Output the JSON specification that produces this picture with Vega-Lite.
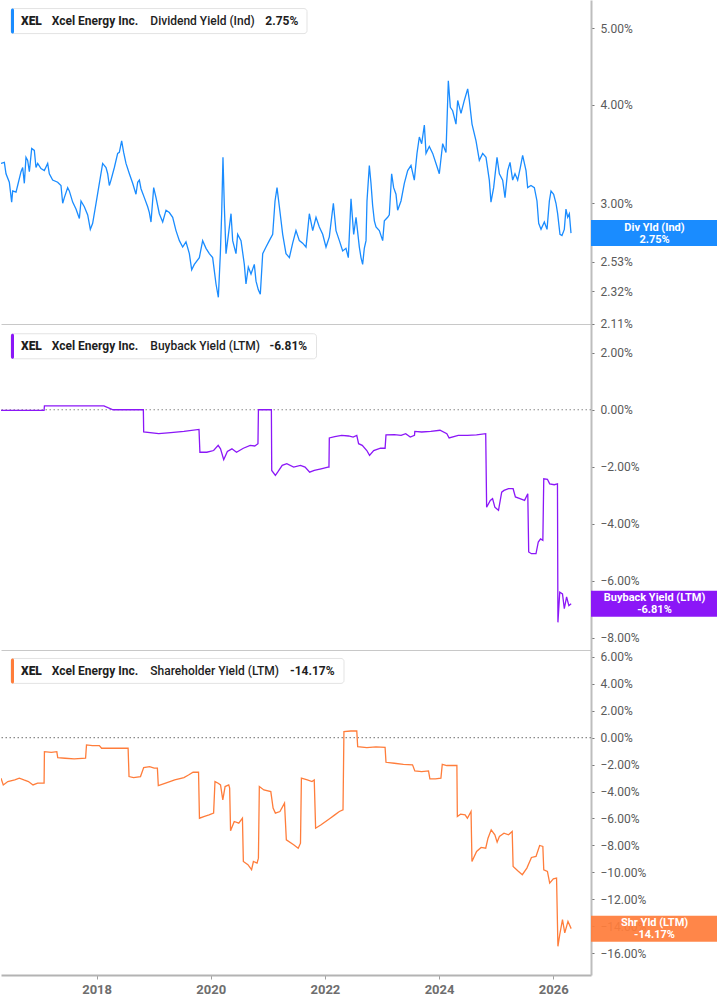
{
  "$schema": "https://vega.github.io/schema/vega-lite/v6.json",
  "padding": 0,
  "spacing": 0,
  "bounds": "flush",
  "background": "white",
  "config": {
    "view": {"stroke": null},
    "font": "Roboto",
    "axis": {"labelFont": "Roboto", "grid": false, "title": null, "labelOverlap": false, "labelFlush": false},
    "axisRight": {"tickSize": 3, "tickColor": "#777777", "tickWidth": 1, "labelPadding": 6, "labelColor": "#5a5a5a", "labelFontSize": 12, "domainColor": "#bdbdbd", "domainWidth": 2, "labelOverlap": false, "tickCount": 30, "labelExpr": "format(datum.value, '.2f') + '%'"}
  },
  "resolve": {"scale": {"x": "independent", "y": "independent"}},
  "datasets": {
    "div": [
      {"t":2016.325,"v":3.37},{"t":2016.384,"v":3.38},{"t":2016.413,"v":3.27},{"t":2016.471,"v":3.19},{"t":2016.512,"v":3.01},{"t":2016.530,"v":3.11},{"t":2016.588,"v":3.10},{"t":2016.617,"v":3.16},{"t":2016.676,"v":3.29},{"t":2016.705,"v":3.33},{"t":2016.734,"v":3.18},{"t":2016.763,"v":3.43},{"t":2016.792,"v":3.40},{"t":2016.822,"v":3.29},{"t":2016.863,"v":3.52},{"t":2016.909,"v":3.50},{"t":2016.938,"v":3.33},{"t":2016.968,"v":3.37},{"t":2017.026,"v":3.32},{"t":2017.084,"v":3.30},{"t":2017.143,"v":3.37},{"t":2017.172,"v":3.27},{"t":2017.230,"v":3.21},{"t":2017.318,"v":3.19},{"t":2017.376,"v":3.16},{"t":2017.406,"v":3.00},{"t":2017.435,"v":3.05},{"t":2017.493,"v":3.14},{"t":2017.522,"v":3.11},{"t":2017.581,"v":3.01},{"t":2017.639,"v":2.95},{"t":2017.698,"v":2.87},{"t":2017.727,"v":3.02},{"t":2017.785,"v":2.97},{"t":2017.844,"v":2.90},{"t":2017.890,"v":2.78},{"t":2017.931,"v":2.83},{"t":2017.990,"v":3.00},{"t":2018.048,"v":3.18},{"t":2018.106,"v":3.37},{"t":2018.165,"v":3.33},{"t":2018.194,"v":3.27},{"t":2018.223,"v":3.16},{"t":2018.252,"v":3.21},{"t":2018.311,"v":3.33},{"t":2018.369,"v":3.47},{"t":2018.398,"v":3.48},{"t":2018.439,"v":3.60},{"t":2018.474,"v":3.48},{"t":2018.515,"v":3.37},{"t":2018.574,"v":3.27},{"t":2018.632,"v":3.18},{"t":2018.690,"v":3.08},{"t":2018.720,"v":3.19},{"t":2018.749,"v":3.21},{"t":2018.778,"v":3.13},{"t":2018.836,"v":3.05},{"t":2018.895,"v":2.97},{"t":2018.924,"v":2.92},{"t":2018.953,"v":2.84},{"t":2019.000,"v":3.14},{"t":2019.041,"v":3.05},{"t":2019.099,"v":2.91},{"t":2019.158,"v":2.84},{"t":2019.216,"v":2.94},{"t":2019.274,"v":2.92},{"t":2019.333,"v":2.88},{"t":2019.391,"v":2.77},{"t":2019.450,"v":2.69},{"t":2019.508,"v":2.64},{"t":2019.566,"v":2.68},{"t":2019.625,"v":2.59},{"t":2019.666,"v":2.47},{"t":2019.712,"v":2.51},{"t":2019.800,"v":2.56},{"t":2019.858,"v":2.69},{"t":2019.917,"v":2.63},{"t":2019.975,"v":2.59},{"t":2020.033,"v":2.56},{"t":2020.092,"v":2.37},{"t":2020.133,"v":2.28},{"t":2020.168,"v":2.59},{"t":2020.191,"v":2.91},{"t":2020.214,"v":3.43},{"t":2020.238,"v":2.97},{"t":2020.267,"v":2.59},{"t":2020.296,"v":2.69},{"t":2020.355,"v":2.91},{"t":2020.384,"v":2.69},{"t":2020.442,"v":2.59},{"t":2020.471,"v":2.74},{"t":2020.530,"v":2.69},{"t":2020.588,"v":2.51},{"t":2020.617,"v":2.37},{"t":2020.658,"v":2.49},{"t":2020.705,"v":2.44},{"t":2020.763,"v":2.51},{"t":2020.793,"v":2.39},{"t":2020.833,"v":2.33},{"t":2020.868,"v":2.30},{"t":2020.910,"v":2.59},{"t":2020.968,"v":2.64},{"t":2021.026,"v":2.69},{"t":2021.085,"v":2.74},{"t":2021.126,"v":3.02},{"t":2021.161,"v":3.14},{"t":2021.202,"v":2.97},{"t":2021.260,"v":2.74},{"t":2021.318,"v":2.59},{"t":2021.377,"v":2.56},{"t":2021.435,"v":2.67},{"t":2021.493,"v":2.77},{"t":2021.552,"v":2.69},{"t":2021.610,"v":2.67},{"t":2021.669,"v":2.64},{"t":2021.727,"v":2.91},{"t":2021.786,"v":2.77},{"t":2021.844,"v":2.88},{"t":2021.902,"v":2.80},{"t":2021.961,"v":2.74},{"t":2022.019,"v":2.64},{"t":2022.077,"v":2.72},{"t":2022.148,"v":3.00},{"t":2022.194,"v":2.77},{"t":2022.253,"v":2.69},{"t":2022.311,"v":2.61},{"t":2022.369,"v":2.63},{"t":2022.410,"v":2.56},{"t":2022.457,"v":3.04},{"t":2022.504,"v":2.74},{"t":2022.545,"v":2.88},{"t":2022.603,"v":2.64},{"t":2022.632,"v":2.56},{"t":2022.661,"v":2.51},{"t":2022.690,"v":2.63},{"t":2022.720,"v":2.69},{"t":2022.737,"v":3.02},{"t":2022.778,"v":3.35},{"t":2022.807,"v":3.18},{"t":2022.836,"v":2.98},{"t":2022.866,"v":2.85},{"t":2022.895,"v":2.80},{"t":2022.953,"v":2.77},{"t":2023.012,"v":2.69},{"t":2023.041,"v":2.85},{"t":2023.099,"v":2.88},{"t":2023.128,"v":2.90},{"t":2023.169,"v":3.27},{"t":2023.204,"v":3.14},{"t":2023.245,"v":3.08},{"t":2023.274,"v":2.94},{"t":2023.333,"v":3.02},{"t":2023.391,"v":3.18},{"t":2023.450,"v":3.30},{"t":2023.508,"v":3.35},{"t":2023.566,"v":3.21},{"t":2023.613,"v":3.47},{"t":2023.654,"v":3.64},{"t":2023.695,"v":3.57},{"t":2023.742,"v":3.77},{"t":2023.771,"v":3.47},{"t":2023.829,"v":3.54},{"t":2023.888,"v":3.47},{"t":2023.946,"v":3.37},{"t":2024.004,"v":3.27},{"t":2024.063,"v":3.57},{"t":2024.121,"v":3.48},{"t":2024.162,"v":4.29},{"t":2024.197,"v":3.97},{"t":2024.238,"v":3.93},{"t":2024.296,"v":3.78},{"t":2024.326,"v":4.05},{"t":2024.384,"v":3.90},{"t":2024.442,"v":4.05},{"t":2024.501,"v":4.19},{"t":2024.530,"v":4.05},{"t":2024.577,"v":3.78},{"t":2024.647,"v":3.60},{"t":2024.705,"v":3.40},{"t":2024.764,"v":3.47},{"t":2024.822,"v":3.43},{"t":2024.880,"v":3.21},{"t":2024.909,"v":3.01},{"t":2024.956,"v":3.14},{"t":2025.015,"v":3.43},{"t":2025.056,"v":3.27},{"t":2025.114,"v":3.21},{"t":2025.155,"v":3.05},{"t":2025.202,"v":3.30},{"t":2025.243,"v":3.38},{"t":2025.289,"v":3.21},{"t":2025.330,"v":3.27},{"t":2025.377,"v":3.21},{"t":2025.423,"v":3.33},{"t":2025.464,"v":3.45},{"t":2025.523,"v":3.30},{"t":2025.552,"v":3.14},{"t":2025.610,"v":3.16},{"t":2025.669,"v":3.14},{"t":2025.715,"v":3.02},{"t":2025.745,"v":2.83},{"t":2025.786,"v":2.78},{"t":2025.844,"v":2.84},{"t":2025.891,"v":2.78},{"t":2025.932,"v":3.02},{"t":2025.961,"v":3.11},{"t":2026.007,"v":3.08},{"t":2026.048,"v":3.00},{"t":2026.077,"v":2.91},{"t":2026.118,"v":2.74},{"t":2026.153,"v":2.73},{"t":2026.194,"v":2.78},{"t":2026.223,"v":2.95},{"t":2026.253,"v":2.88},{"t":2026.282,"v":2.91},{"t":2026.311,"v":2.75}
    ],
    "bb": [
      {"t":2016.325,"v":-0.02},{"t":2017.080,"v":-0.02},{"t":2017.086,"v":0.14},{"t":2018.128,"v":0.14},{"t":2018.288,"v":0.0},{"t":2018.819,"v":0.0},{"t":2018.825,"v":-0.78},{"t":2019.089,"v":-0.84},{"t":2019.300,"v":-0.80},{"t":2019.530,"v":-0.76},{"t":2019.794,"v":-0.69},{"t":2019.810,"v":-1.49},{"t":2019.930,"v":-1.49},{"t":2020.050,"v":-1.43},{"t":2020.130,"v":-1.25},{"t":2020.171,"v":-1.37},{"t":2020.227,"v":-1.75},{"t":2020.291,"v":-1.46},{"t":2020.371,"v":-1.37},{"t":2020.451,"v":-1.49},{"t":2020.571,"v":-1.35},{"t":2020.691,"v":-1.25},{"t":2020.771,"v":-1.27},{"t":2020.827,"v":-1.19},{"t":2020.835,"v":0.0},{"t":2021.062,"v":0.0},{"t":2021.068,"v":-2.13},{"t":2021.132,"v":-2.30},{"t":2021.172,"v":-2.19},{"t":2021.252,"v":-1.95},{"t":2021.332,"v":-1.89},{"t":2021.452,"v":-2.01},{"t":2021.572,"v":-1.95},{"t":2021.652,"v":-2.01},{"t":2021.733,"v":-2.19},{"t":2021.813,"v":-2.13},{"t":2021.933,"v":-2.07},{"t":2022.053,"v":-2.01},{"t":2022.071,"v":-2.01},{"t":2022.077,"v":-0.99},{"t":2022.173,"v":-0.94},{"t":2022.293,"v":-0.90},{"t":2022.414,"v":-0.92},{"t":2022.494,"v":-0.96},{"t":2022.558,"v":-0.90},{"t":2022.590,"v":-1.19},{"t":2022.654,"v":-1.25},{"t":2022.734,"v":-1.43},{"t":2022.782,"v":-1.60},{"t":2022.854,"v":-1.43},{"t":2022.974,"v":-1.35},{"t":2023.054,"v":-1.35},{"t":2023.070,"v":-0.88},{"t":2023.214,"v":-0.87},{"t":2023.335,"v":-0.90},{"t":2023.415,"v":-0.84},{"t":2023.495,"v":-0.96},{"t":2023.569,"v":-0.90},{"t":2023.575,"v":-0.76},{"t":2023.695,"v":-0.78},{"t":2023.855,"v":-0.76},{"t":2024.016,"v":-0.72},{"t":2024.136,"v":-0.84},{"t":2024.176,"v":-0.99},{"t":2024.336,"v":-0.90},{"t":2024.496,"v":-0.90},{"t":2024.656,"v":-0.88},{"t":2024.817,"v":-0.84},{"t":2024.833,"v":-3.42},{"t":2024.897,"v":-3.18},{"t":2024.937,"v":-3.12},{"t":2024.977,"v":-3.42},{"t":2025.041,"v":-3.53},{"t":2025.097,"v":-2.89},{"t":2025.137,"v":-2.83},{"t":2025.217,"v":-2.77},{"t":2025.297,"v":-2.77},{"t":2025.337,"v":-3.06},{"t":2025.417,"v":-3.12},{"t":2025.498,"v":-3.18},{"t":2025.554,"v":-2.95},{"t":2025.570,"v":-4.99},{"t":2025.618,"v":-5.05},{"t":2025.698,"v":-5.05},{"t":2025.738,"v":-4.64},{"t":2025.778,"v":-4.53},{"t":2025.818,"v":-4.58},{"t":2025.834,"v":-2.42},{"t":2025.898,"v":-2.44},{"t":2025.938,"v":-2.60},{"t":2026.018,"v":-2.63},{"t":2026.074,"v":-2.60},{"t":2026.082,"v":-7.46},{"t":2026.114,"v":-6.40},{"t":2026.162,"v":-6.46},{"t":2026.194,"v":-6.98},{"t":2026.234,"v":-6.57},{"t":2026.274,"v":-6.87},{"t":2026.314,"v":-6.81}
    ],
    "shr": [
      {"t":2016.325,"v":-3.01},{"t":2016.365,"v":-3.51},{"t":2016.445,"v":-3.26},{"t":2016.566,"v":-3.14},{"t":2016.646,"v":-3.01},{"t":2016.726,"v":-3.14},{"t":2016.806,"v":-3.26},{"t":2016.886,"v":-3.51},{"t":2016.966,"v":-3.38},{"t":2017.080,"v":-3.38},{"t":2017.086,"v":-1.04},{"t":2017.206,"v":-1.09},{"t":2017.303,"v":-1.04},{"t":2017.319,"v":-1.48},{"t":2017.447,"v":-1.53},{"t":2017.607,"v":-1.58},{"t":2017.807,"v":-1.53},{"t":2017.823,"v":-0.54},{"t":2017.927,"v":-0.59},{"t":2018.048,"v":-0.59},{"t":2018.088,"v":-0.79},{"t":2018.248,"v":-0.79},{"t":2018.408,"v":-0.79},{"t":2018.552,"v":-0.79},{"t":2018.568,"v":-2.89},{"t":2018.648,"v":-2.96},{"t":2018.769,"v":-2.89},{"t":2018.825,"v":-2.22},{"t":2018.929,"v":-2.15},{"t":2019.009,"v":-2.27},{"t":2019.065,"v":-2.27},{"t":2019.081,"v":-3.56},{"t":2019.209,"v":-3.38},{"t":2019.369,"v":-3.14},{"t":2019.530,"v":-2.96},{"t":2019.610,"v":-2.77},{"t":2019.690,"v":-2.57},{"t":2019.786,"v":-2.57},{"t":2019.802,"v":-5.98},{"t":2019.890,"v":-5.85},{"t":2019.970,"v":-5.73},{"t":2020.050,"v":-5.60},{"t":2020.074,"v":-3.26},{"t":2020.130,"v":-3.38},{"t":2020.171,"v":-3.51},{"t":2020.211,"v":-4.62},{"t":2020.251,"v":-3.63},{"t":2020.315,"v":-3.51},{"t":2020.331,"v":-3.75},{"t":2020.347,"v":-6.91},{"t":2020.411,"v":-6.22},{"t":2020.491,"v":-6.35},{"t":2020.555,"v":-5.98},{"t":2020.571,"v":-9.19},{"t":2020.651,"v":-9.43},{"t":2020.715,"v":-9.80},{"t":2020.747,"v":-9.19},{"t":2020.811,"v":-9.31},{"t":2020.835,"v":-8.94},{"t":2020.851,"v":-3.63},{"t":2020.931,"v":-3.88},{"t":2021.052,"v":-4.00},{"t":2021.092,"v":-5.23},{"t":2021.132,"v":-5.60},{"t":2021.212,"v":-5.48},{"t":2021.292,"v":-4.86},{"t":2021.324,"v":-7.58},{"t":2021.452,"v":-7.95},{"t":2021.532,"v":-8.20},{"t":2021.572,"v":-7.83},{"t":2021.588,"v":-3.01},{"t":2021.692,"v":-3.14},{"t":2021.773,"v":-3.26},{"t":2021.813,"v":-3.14},{"t":2021.837,"v":-6.72},{"t":2021.933,"v":-6.47},{"t":2022.013,"v":-6.22},{"t":2022.093,"v":-5.98},{"t":2022.173,"v":-5.73},{"t":2022.253,"v":-5.48},{"t":2022.317,"v":-5.36},{"t":2022.333,"v":0.44},{"t":2022.454,"v":0.49},{"t":2022.558,"v":0.49},{"t":2022.574,"v":-0.67},{"t":2022.734,"v":-0.74},{"t":2022.894,"v":-0.69},{"t":2023.054,"v":-0.72},{"t":2023.070,"v":-1.83},{"t":2023.215,"v":-1.90},{"t":2023.375,"v":-1.98},{"t":2023.535,"v":-2.02},{"t":2023.575,"v":-2.47},{"t":2023.695,"v":-2.52},{"t":2023.815,"v":-2.47},{"t":2023.839,"v":-3.06},{"t":2023.936,"v":-3.06},{"t":2024.032,"v":-3.01},{"t":2024.056,"v":-1.98},{"t":2024.136,"v":-2.07},{"t":2024.216,"v":-2.07},{"t":2024.312,"v":-2.07},{"t":2024.320,"v":-5.85},{"t":2024.376,"v":-5.68},{"t":2024.456,"v":-5.73},{"t":2024.496,"v":-5.98},{"t":2024.560,"v":-5.48},{"t":2024.576,"v":-9.19},{"t":2024.657,"v":-8.44},{"t":2024.737,"v":-8.15},{"t":2024.817,"v":-8.20},{"t":2024.857,"v":-7.46},{"t":2024.913,"v":-6.84},{"t":2024.977,"v":-7.21},{"t":2025.017,"v":-7.75},{"t":2025.057,"v":-7.33},{"t":2025.137,"v":-7.09},{"t":2025.217,"v":-7.21},{"t":2025.281,"v":-6.96},{"t":2025.297,"v":-9.56},{"t":2025.378,"v":-9.88},{"t":2025.458,"v":-10.17},{"t":2025.538,"v":-9.68},{"t":2025.618,"v":-8.89},{"t":2025.698,"v":-8.81},{"t":2025.762,"v":-8.00},{"t":2025.818,"v":-8.07},{"t":2025.834,"v":-9.80},{"t":2025.898,"v":-9.93},{"t":2025.938,"v":-10.79},{"t":2026.002,"v":-10.47},{"t":2026.058,"v":-10.42},{"t":2026.082,"v":-15.48},{"t":2026.114,"v":-14.62},{"t":2026.162,"v":-13.51},{"t":2026.202,"v":-14.49},{"t":2026.258,"v":-13.63},{"t":2026.314,"v":-14.17}
    ]
  },
  "vconcat": [
    {
      "width": 590,
      "height": 324,
      "data": {"values": [{"ticker": "XEL", "name": "Xcel Energy Inc.", "metric": "Dividend Yield (Ind)", "last": "2.75%", "short": "Div Yld (Ind)", "value": 2.75}]},
      "layer": [
        {
          "data": {"name": "div"},
          "mark": {"type": "line", "color": "#1a8cff", "strokeWidth": 1.3, "clip": true},
          "encoding": {
            "x": {"field": "t", "type": "quantitative", "scale": {"domain": [2016.3252, 2026.6615], "nice": false, "zero": false},
                  "axis": {"labels": false, "ticks": false, "domainColor": "#c8c8c8", "domainWidth": 1}},
            "y": {"field": "v", "type": "quantitative", "scale": {"type": "log", "domain": [2.109, 5.43], "nice": false},
                  "axis": {"orient": "right", "labelOverlap": false, "tickCount": 30, "values": [2.11, 2.32, 2.53, 3, 4, 5]}}
          }
        },
        {
          "mark": {"type": "rule", "color": "#1a8cff", "strokeWidth": 26, "strokeCap": "butt", "clip": false},
          "encoding": {"x": {"datum": 2026.6615}, "x2": {"datum": 2028.886}, "y": {"field": "value", "type": "quantitative"}}
        },
        {
          "mark": {"type": "text", "color": "white", "fontWeight": "bold", "fontSize": 11, "align": "center", "baseline": "middle", "dy": -5.5, "clip": false},
          "encoding": {"x": {"datum": 2027.774}, "y": {"field": "value", "type": "quantitative"}, "text": {"field": "short"}}
        },
        {
          "mark": {"type": "text", "color": "white", "fontWeight": "bold", "fontSize": 11, "align": "center", "baseline": "middle", "dy": 6.5, "clip": false},
          "encoding": {"x": {"datum": 2027.774}, "y": {"field": "value", "type": "quantitative"}, "text": {"field": "last"}}
        },
        {
          "mark": {"type": "rect", "fill": "white", "stroke": "#e3e3e3", "strokeWidth": 1, "cornerRadius": 3},
          "encoding": {"x": {"datum": 2016.5004}, "x2": {"datum": 2021.6861}, "y": {"datum": 5.296}, "y2": {"datum": 4.923}}
        },
        {
          "mark": {"type": "rect", "fill": "#1a8cff", "cornerRadius": 1.5},
          "encoding": {"x": {"datum": 2016.5004}, "x2": {"datum": 2016.5529}, "y": {"datum": 5.296}, "y2": {"datum": 4.923}}
        },
        {
          "mark": {"type": "text", "align": "left", "baseline": "middle", "fontSize": 12, "fontWeight": 900, "color": "#1e1e1e"},
          "encoding": {"x": {"datum": 2016.6755}, "y": {"datum": 5.103}, "text": {"field": "ticker"}}
        },
        {
          "mark": {"type": "text", "align": "left", "baseline": "middle", "fontSize": 12, "fontWeight": 700, "color": "#1e1e1e"},
          "encoding": {"x": {"datum": 2017.2134}, "y": {"datum": 5.103}, "text": {"field": "name"}}
        },
        {
          "mark": {"type": "text", "align": "left", "baseline": "middle", "fontSize": 12, "fontWeight": 500, "color": "#1e1e1e"},
          "encoding": {"x": {"datum": 2018.9408}, "y": {"datum": 5.103}, "text": {"field": "metric"}}
        },
        {
          "mark": {"type": "text", "align": "left", "baseline": "middle", "fontSize": 12, "fontWeight": 700, "color": "#1e1e1e"},
          "encoding": {"x": {"datum": 2020.9555}, "y": {"datum": 5.103}, "text": {"field": "last"}}
        }
      ]
    },
    {
      "width": 590,
      "height": 326,
      "data": {"values": [{"ticker": "XEL", "name": "Xcel Energy Inc.", "metric": "Buyback Yield (LTM)", "last": "-6.81%", "short": "Buyback Yield (LTM)", "value": -6.81}]},
      "layer": [
        {
          "mark": {"type": "rule", "color": "#8a8a8a", "strokeWidth": 1.2, "strokeDash": [1.5, 2.5]},
          "encoding": {"y": {"datum": 0, "type": "quantitative"}}
        },
        {
          "data": {"name": "bb"},
          "mark": {"type": "line", "color": "#8b17f7", "strokeWidth": 1.3, "clip": true},
          "encoding": {
            "x": {"field": "t", "type": "quantitative", "scale": {"domain": [2016.3252, 2026.6615], "nice": false, "zero": false},
                  "axis": {"labels": false, "ticks": false, "domainColor": "#c8c8c8", "domainWidth": 1}},
            "y": {"field": "v", "type": "quantitative", "scale": {"domain": [-8.43, 3.01], "nice": false, "zero": false},
                  "axis": {"orient": "right", "labelOverlap": false, "tickCount": 30, "values": [-8, -6, -4, -2, 0, 2]}}
          }
        },
        {
          "mark": {"type": "rule", "color": "#8b17f7", "strokeWidth": 26, "strokeCap": "butt", "clip": false},
          "encoding": {"x": {"datum": 2026.6615}, "x2": {"datum": 2028.886}, "y": {"field": "value", "type": "quantitative"}}
        },
        {
          "mark": {"type": "text", "color": "white", "fontWeight": "bold", "fontSize": 11, "align": "center", "baseline": "middle", "dy": -5.5, "clip": false},
          "encoding": {"x": {"datum": 2027.774}, "y": {"field": "value", "type": "quantitative"}, "text": {"field": "short"}}
        },
        {
          "mark": {"type": "text", "color": "white", "fontWeight": "bold", "fontSize": 11, "align": "center", "baseline": "middle", "dy": 6.5, "clip": false},
          "encoding": {"x": {"datum": 2027.774}, "y": {"field": "value", "type": "quantitative"}, "text": {"field": "last"}}
        },
        {
          "mark": {"type": "rect", "fill": "white", "stroke": "#e3e3e3", "strokeWidth": 1, "cornerRadius": 3},
          "encoding": {"x": {"datum": 2016.5004}, "x2": {"datum": 2021.8525}, "y": {"datum": 2.667}, "y2": {"datum": 1.789}}
        },
        {
          "mark": {"type": "rect", "fill": "#8b17f7", "cornerRadius": 1.5},
          "encoding": {"x": {"datum": 2016.5004}, "x2": {"datum": 2016.5529}, "y": {"datum": 2.667}, "y2": {"datum": 1.789}}
        },
        {
          "mark": {"type": "text", "align": "left", "baseline": "middle", "fontSize": 12, "fontWeight": 900, "color": "#1e1e1e"},
          "encoding": {"x": {"datum": 2016.6755}, "y": {"datum": 2.232}, "text": {"field": "ticker"}}
        },
        {
          "mark": {"type": "text", "align": "left", "baseline": "middle", "fontSize": 12, "fontWeight": 700, "color": "#1e1e1e"},
          "encoding": {"x": {"datum": 2017.2134}, "y": {"datum": 2.232}, "text": {"field": "name"}}
        },
        {
          "mark": {"type": "text", "align": "left", "baseline": "middle", "fontSize": 12, "fontWeight": 500, "color": "#1e1e1e"},
          "encoding": {"x": {"datum": 2018.9408}, "y": {"datum": 2.232}, "text": {"field": "metric"}}
        },
        {
          "mark": {"type": "text", "align": "left", "baseline": "middle", "fontSize": 12, "fontWeight": 700, "color": "#1e1e1e"},
          "encoding": {"x": {"datum": 2021.0273}, "y": {"datum": 2.232}, "text": {"field": "last"}}
        }
      ]
    },
    {
      "width": 590,
      "height": 325,
      "data": {"values": [{"ticker": "XEL", "name": "Xcel Energy Inc.", "metric": "Shareholder Yield (LTM)", "last": "-14.17%", "short": "Shr Yld (LTM)", "value": -14.17}]},
      "layer": [
        {
          "mark": {"type": "rule", "color": "#8a8a8a", "strokeWidth": 1.2, "strokeDash": [1.5, 2.5]},
          "encoding": {"y": {"datum": 0, "type": "quantitative"}}
        },
        {
          "data": {"name": "shr"},
          "mark": {"type": "line", "color": "#ff7d3b", "strokeWidth": 1.3, "clip": true},
          "encoding": {
            "x": {"field": "t", "type": "quantitative", "scale": {"domain": [2016.3252, 2026.6615], "nice": false, "zero": false},
                  "axis": {"values": [2018, 2020, 2022, 2024, 2026], "tickCount": 30, "format": "d", "labelFontWeight": "bold", "labelColor": "#6e6e6e", "labelFontSize": 13, "tickSize": 4, "tickColor": "#a0a0a0", "labelPadding": 4, "domainColor": "#b3b3b3", "domainWidth": 2}},
            "y": {"field": "v", "type": "quantitative", "scale": {"domain": [-17.61, 6.5], "nice": false, "zero": false},
                  "axis": {"orient": "right", "labelOverlap": false, "tickCount": 30, "values": [-16, -14, -12, -10, -8, -6, -4, -2, 0, 2, 4, 6]}}
          }
        },
        {
          "mark": {"type": "rule", "color": "#ff7d3b", "opacity": 0.93, "strokeWidth": 26, "strokeCap": "butt", "clip": false},
          "encoding": {"x": {"datum": 2026.6615}, "x2": {"datum": 2028.886}, "y": {"field": "value", "type": "quantitative"}}
        },
        {
          "mark": {"type": "text", "color": "white", "fontWeight": "bold", "fontSize": 11, "align": "center", "baseline": "middle", "dy": -5.5, "clip": false},
          "encoding": {"x": {"datum": 2027.774}, "y": {"field": "value", "type": "quantitative"}, "text": {"field": "short"}}
        },
        {
          "mark": {"type": "text", "color": "white", "fontWeight": "bold", "fontSize": 11, "align": "center", "baseline": "middle", "dy": 6.5, "clip": false},
          "encoding": {"x": {"datum": 2027.774}, "y": {"field": "value", "type": "quantitative"}, "text": {"field": "last"}}
        },
        {
          "mark": {"type": "rect", "fill": "white", "stroke": "#e3e3e3", "strokeWidth": 1, "cornerRadius": 3},
          "encoding": {"x": {"datum": 2016.5004}, "x2": {"datum": 2022.3343}, "y": {"datum": 5.874}, "y2": {"datum": 4.022}}
        },
        {
          "mark": {"type": "rect", "fill": "#ff7d3b", "cornerRadius": 1.5},
          "encoding": {"x": {"datum": 2016.5004}, "x2": {"datum": 2016.5529}, "y": {"datum": 5.874}, "y2": {"datum": 4.022}}
        },
        {
          "mark": {"type": "text", "align": "left", "baseline": "middle", "fontSize": 12, "fontWeight": 900, "color": "#1e1e1e"},
          "encoding": {"x": {"datum": 2016.6755}, "y": {"datum": 4.933}, "text": {"field": "ticker"}}
        },
        {
          "mark": {"type": "text", "align": "left", "baseline": "middle", "fontSize": 12, "fontWeight": 700, "color": "#1e1e1e"},
          "encoding": {"x": {"datum": 2017.2134}, "y": {"datum": 4.933}, "text": {"field": "name"}}
        },
        {
          "mark": {"type": "text", "align": "left", "baseline": "middle", "fontSize": 12, "fontWeight": 500, "color": "#1e1e1e"},
          "encoding": {"x": {"datum": 2018.9408}, "y": {"datum": 4.933}, "text": {"field": "metric"}}
        },
        {
          "mark": {"type": "text", "align": "left", "baseline": "middle", "fontSize": 12, "fontWeight": 700, "color": "#1e1e1e"},
          "encoding": {"x": {"datum": 2021.3882}, "y": {"datum": 4.933}, "text": {"field": "last"}}
        }
      ]
    }
  ]
}
